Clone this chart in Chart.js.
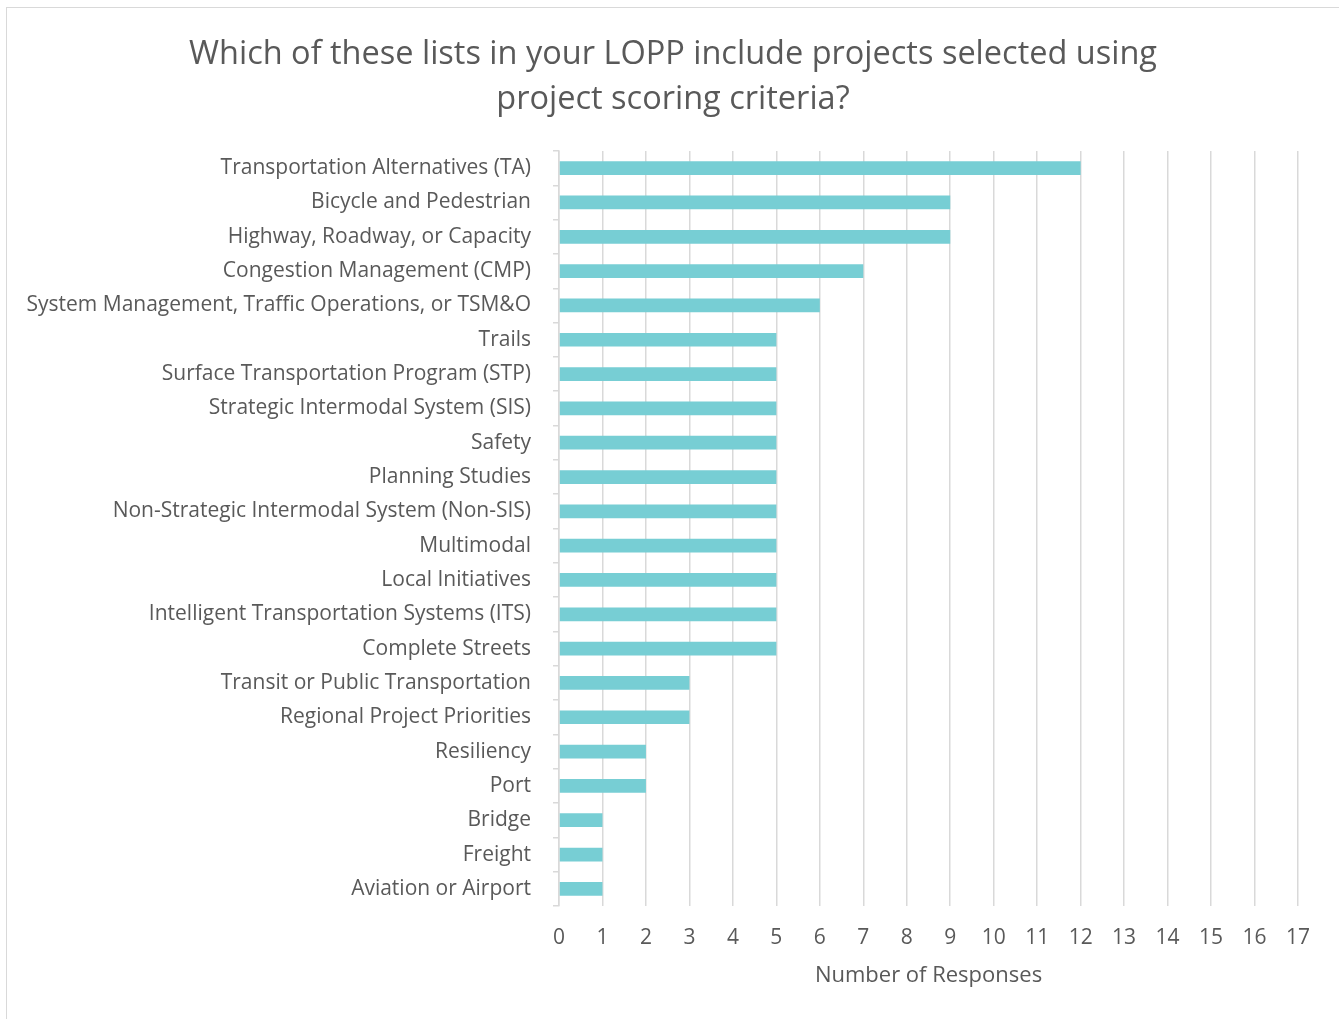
<!DOCTYPE html>
<html>
<head>
<meta charset="utf-8">
<script src="https://cdn.jsdelivr.net/npm/chart.js@4"></script>
<style>
    body { margin: 0; background: #fff; overflow: hidden; }
    #frame {
        position: absolute;
        left: 6px;
        top: 7px;
        width: 1332px;
        height: 1011px;
        border-left: 1px solid #d9d9d9;
        border-top: 1px solid #d9d9d9;
    }
</style>
</head>
<body>
<div id="frame"><canvas id="barChart"></canvas></div>
<script>
// List names, top to bottom
const categories = [
    'Transportation Alternatives (TA)',
    'Bicycle and Pedestrian',
    'Highway, Roadway, or Capacity',
    'Congestion Management (CMP)',
    'System Management, Traffic Operations, or TSM&O',
    'Trails',
    'Surface Transportation Program (STP)',
    'Strategic Intermodal System (SIS)',
    'Safety',
    'Planning Studies',
    'Non-Strategic Intermodal System (Non-SIS)',
    'Multimodal',
    'Local Initiatives',
    'Intelligent Transportation Systems (ITS)',
    'Complete Streets',
    'Transit or Public Transportation',
    'Regional Project Priorities',
    'Resiliency',
    'Port',
    'Bridge',
    'Freight',
    'Aviation or Airport'
];

// Number of responses for each list
const responses = [12, 9, 9, 7, 6, 5, 5, 5, 5, 5, 5, 5, 5, 5, 5, 3, 3, 2, 2, 1, 1, 1];

const titleLines = ['Which of these lists in your LOPP include projects selected using', 'project scoring criteria?'];
const axisMax = 17;

const textColor = '#595959';
const gridColor = '#d9d9d9';
const fontFamily = '"Open Sans", "Liberation Sans", sans-serif';

// Title centred on the whole canvas (the built-in one centres between the layout paddings)
const centeredTitle = {
    id: 'centeredTitle',
    afterDraw(chart) {
        const ctx = chart.ctx;
        ctx.save();
        ctx.fillStyle = textColor;
        ctx.font = '32.5px ' + fontFamily;
        ctx.textAlign = 'center';
        ctx.textBaseline = 'middle';
        titleLines.forEach((line, i) => {
            ctx.fillText(line, chart.width / 2, 46.5 + i * 45);
        });
        ctx.restore();
    }
};

var barChart = new Chart(document.getElementById('barChart'), {
    type: 'bar',
    data: {
        labels: categories,
        datasets: [{
            data: responses,
            backgroundColor: '#77ced4',
            borderWidth: 0,
            barPercentage: 0.4,
            categoryPercentage: 1
        }]
    },
    options: {
        indexAxis: 'y',
        responsive: true,
        maintainAspectRatio: false,
        animation: false,
        layout: {
            padding: { top: 143, right: 41, bottom: 26, left: 0 }
        },
        plugins: {
            legend: { display: false },
            tooltip: { enabled: false },
            title: { display: false }
        },
        scales: {
            x: {
                min: 0,
                max: axisMax,
                // fixed height keeps the plot bottom and axis title in place
                afterFit: function(scale) {
                    scale.height = 87;
                },
                ticks: {
                    stepSize: 1,
                    color: textColor,
                    padding: 19,
                    font: { family: fontFamily, size: 21 }
                },
                grid: {
                    color: gridColor,
                    lineWidth: 1.5,
                    drawTicks: false
                },
                border: { display: false },
                title: {
                    display: true,
                    text: 'Number of Responses',
                    color: textColor,
                    font: { family: fontFamily, size: 22 },
                    padding: { top: 13, bottom: 4 }
                }
            },
            y: {
                afterFit: function(scale) {
                    scale.width = 552;
                },
                ticks: {
                    color: textColor,
                    padding: 22,
                    font: { family: fontFamily, size: 21 }
                },
                grid: {
                    offset: true,
                    drawOnChartArea: false,
                    tickLength: 6,
                    color: gridColor,
                    lineWidth: 1.5
                },
                border: { color: gridColor, width: 1.5 }
            }
        }
    },
    plugins: [centeredTitle]
});
</script>
</body>
</html>
